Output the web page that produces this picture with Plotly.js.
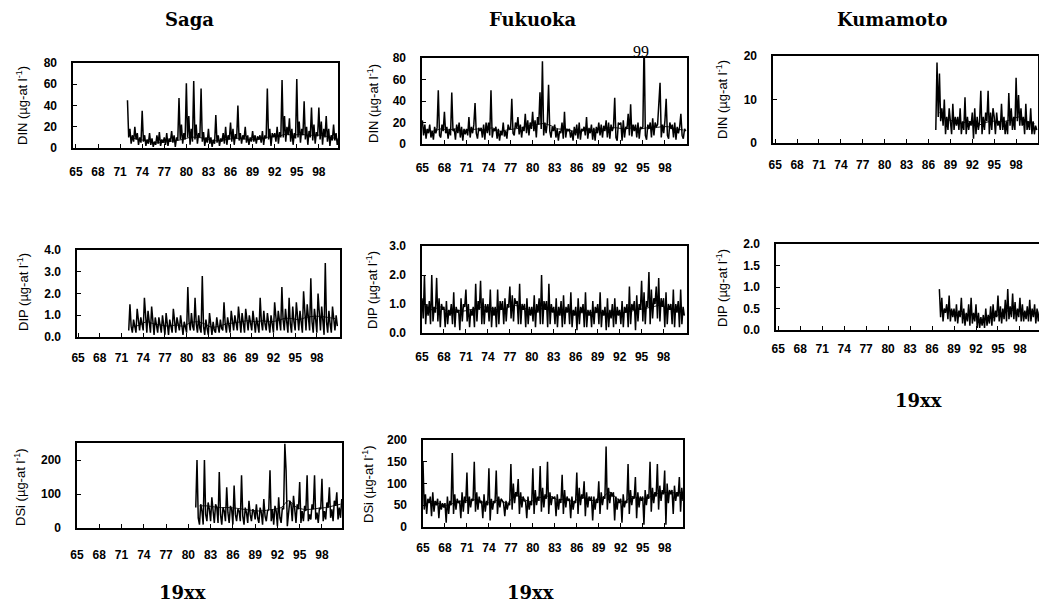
<!DOCTYPE html>
<html>
<head>
<meta charset="utf-8">
<script src="https://cdn.plot.ly/plotly-3.0.1.min.js"></script>
<style>html,body{margin:0;padding:0;background:#fff;}#chart{width:1039px;height:602px;}</style>
</head>
<body>
<div id="chart"></div>
<script>
// ---------- DATA (bimonthly raw values, annual smoothed values) ----------
const yearTicks = [65, 68, 71, 74, 77, 80, 83, 86, 89, 92, 95, 98];
const yearTickText = ["65","68","71","74","77","80","83","86","89","92","95","98"];

// Saga DIN, six values per year from 1972
const sagaDinStart = 72;
const sagaDin = [
 45,10,18,4,12,6, 20,8,14,3,10,5, 35,6,12,2,8,4, 14,3,9,1,6,3, 12,4,15,2,8,5,
 10,3,14,2,9,6, 16,5,12,1,10,7, 47,8,22,4,14,8, 61,10,30,3,18,6, 63,8,22,4,14,10,
 56,6,15,2,10,5, 18,4,10,1,8,4, 31,5,12,2,9,6, 14,4,20,3,12,8, 24,6,18,3,13,9,
 40,7,14,4,12,8, 20,5,12,3,10,6, 16,6,12,4,11,8, 12,5,16,3,12,9, 56,8,18,2,14,10,
 14,6,20,4,15,10, 64,10,30,6,20,12, 28,6,18,3,14,9, 65,10,25,5,18,12, 44,8,20,3,16,10,
 38,7,22,4,15,11, 38,8,25,3,18,10, 30,6,18,2,12,7, 22,7,14,3,9,4];
const sagaDinSmooth = [10,8,7,5,5,6,7,8,10,10,9,7,7,8,9,9,8,8,9,11,11,13,12,13,12,12,12,10,9];

// Fukuoka DIN, six values per year from 1965
const fukDinStart = 65;
const fukDin = [
 22,8,18,5,14,10, 18,6,12,4,16,10, 15,50,8,6,18,12, 30,10,16,5,14,8, 48,12,14,4,18,10,
 20,6,16,3,14,9, 14,8,25,6,16,10, 18,38,10,5,15,12, 15,6,18,4,20,10, 20,8,50,6,14,12,
 16,5,14,3,12,8, 20,7,12,5,18,14, 14,42,10,8,20,15, 25,9,18,6,16,12, 28,10,22,8,20,14,
 30,12,22,6,25,18, 48,14,77,8,20,10, 20,55,12,6,16,12, 18,6,14,3,12,10, 20,5,30,6,14,12,
 14,6,12,3,16,8, 18,5,20,4,14,12, 16,8,25,5,15,10, 18,4,15,3,16,10, 20,8,18,6,17,12,
 22,6,20,5,18,12, 16,43,6,3,20,18, 20,3,22,6,16,14, 28,8,37,7,18,12, 18,6,20,5,16,14,
 16,99,8,4,18,14, 20,6,24,8,20,16, 18,36,57,6,18,10, 22,42,8,5,20,14, 18,6,20,4,16,10,
 16,28,8,5,14,12];
const fukDinSmooth = [13,12,14,13,14,12,13,14,13,15,12,13,14,15,17,18,19,17,14,14,12,12,13,13,14,15,15,14,15,14,15,15,16,16,14,13];

// Kumamoto DIN, six values per year from 1987
const kumDinStart = 87;
const kumDin = [
 3,18.5,6,16,5,8, 4,10,2,6,3,8, 5,2,9,3,6,4, 6,3,8,2,5,3, 10.5,2,6,3,5,4,
 7,1,8,2,6,3, 5,12,2,6,3,7, 5,12,2,7,3,8, 6,2,7,4,5,3, 9,3,6,2,5,2,
 11.5,4,8,3,6,3, 15,5,11,4,8,4, 6,2,9,3,5,3, 8,2,5,2,4,3];
const kumDinSmooth = [7,5.5,5,4.5,5,4,4.5,5,5,5,5.5,6,5,4.5];

// Saga DIP, six values per year from 1972
const sagaDipStart = 72;
const sagaDip = [
 0.3,1.5,0.5,0.2,0.8,0.4, 0.2,1.3,0.6,0.3,0.9,0.5, 0.3,1.8,0.7,0.2,1.2,0.5, 0.2,1.4,0.5,0.1,0.9,0.4,
 0.2,0.9,0.6,0.2,1.0,0.4, 0.1,1.1,0.5,0.1,0.8,0.4, 0.2,1.3,0.6,0.2,0.9,0.5, 0.3,1.0,0.5,0.1,0.7,0.4,
 0.2,2.3,0.7,0.3,1.1,0.5, 0.3,1.8,0.6,0.2,1.0,0.4, 0.2,2.8,0.5,0.1,0.8,0.4, 0.1,1.1,0.4,0.1,0.7,0.3,
 0.2,0.9,0.5,0.2,0.8,0.4, 0.3,1.6,0.6,0.2,0.9,0.5, 0.2,1.2,0.7,0.3,1.0,0.6, 0.3,1.4,0.6,0.2,1.1,0.6,
 0.2,1.3,0.7,0.3,1.0,0.6, 0.3,1.2,0.5,0.2,0.9,0.5, 0.2,1.8,0.7,0.3,1.2,0.6, 0.3,1.1,0.6,0.2,1.0,0.5,
 0.2,1.6,0.7,0.3,1.2,0.6, 0.3,2.3,0.8,0.3,1.3,0.7, 0.2,1.8,0.6,0.2,1.4,0.7, 0.3,1.6,0.7,0.3,1.2,0.6,
 0.2,2.1,0.8,0.3,1.5,0.7, 0.3,2.7,0.7,0.2,1.3,0.8, 0.2,2.0,0.9,0.3,1.4,0.7, 0.1,3.4,0.7,0.2,1.2,0.6,
 0.2,1.4,0.8,0.3,1.0,0.5];
const sagaDipSmooth = [0.45,0.55,0.7,0.6,0.55,0.5,0.55,0.5,0.65,0.7,0.6,0.45,0.5,0.6,0.65,0.7,0.75,0.7,0.75,0.7,0.75,0.85,0.85,0.8,0.9,0.95,0.95,0.9,0.85];

// Fukuoka DIP, six values per year from 1965
const fukDipStart = 65;
const fukDip = [
 1.2,0.5,2.0,0.3,1.0,0.6, 1.1,0.3,2.0,0.4,0.9,0.7, 1.9,0.4,1.2,0.2,1.0,0.8, 0.9,0.2,1.1,0.3,0.8,0.6,
 1.0,0.3,1.4,0.2,0.9,0.7, 0.8,0.1,1.2,0.4,1.0,0.9, 1.5,0.4,1.0,0.2,0.8,0.6, 0.9,0.2,1.7,0.4,1.1,0.8,
 1.8,0.3,1.2,0.3,1.0,0.7, 1.0,0.4,1.5,0.2,0.9,0.6, 0.9,0.2,1.5,0.3,1.1,0.8, 1.1,0.3,1.2,0.4,1.0,0.9,
 1.6,0.5,1.3,0.4,1.2,1.0, 1.1,0.3,1.7,0.3,1.0,0.8, 1.0,0.2,1.2,0.3,0.9,0.6, 0.9,0.4,1.3,0.2,1.0,0.7,
 1.2,0.3,2.0,0.3,1.1,0.8, 1.1,0.2,1.7,0.3,1.0,0.7, 0.9,0.3,1.2,0.2,0.9,0.6, 1.1,0.2,1.3,0.3,0.9,0.7,
 1.0,0.3,1.4,0.2,0.8,0.6, 0.9,0.1,1.2,0.3,0.9,0.7, 1.0,0.2,1.4,0.2,0.8,0.6, 0.8,0.2,1.1,0.3,0.9,0.7,
 1.0,0.3,1.4,0.2,0.8,0.6, 0.9,0.1,1.2,0.2,0.8,0.5, 1.0,0.2,1.2,0.3,0.9,0.6, 0.8,0.3,1.1,0.2,0.9,0.7,
 1.0,0.2,1.6,0.3,1.0,0.8, 1.1,0.1,1.3,0.4,1.0,0.8, 1.8,0.4,1.4,0.3,1.1,0.9, 2.1,0.3,1.5,0.5,1.2,1.0,
 1.6,0.5,1.9,0.4,1.2,0.9, 1.2,0.2,1.4,0.3,1.0,0.8, 1.0,0.3,1.5,0.2,1.0,0.7, 1.1,0.2,1.5,0.3,0.9,0.6];
const fukDipSmooth = [0.85,0.8,0.9,0.75,0.8,0.75,0.8,0.85,0.9,0.85,0.8,0.85,0.95,0.9,0.8,0.75,0.85,0.85,0.75,0.75,0.75,0.7,0.7,0.7,0.7,0.65,0.7,0.7,0.75,0.8,0.85,0.9,0.95,0.85,0.8,0.8];

// Kumamoto DIP, six values per year from 1987
const kumDipStart = 87;
const kumDip = [
 0.95,0.3,0.75,0.2,0.5,0.4, 0.6,0.25,0.8,0.2,0.5,0.3, 0.5,0.2,0.6,0.15,0.45,0.3, 0.75,0.15,0.5,0.1,0.4,0.2,
 0.6,0.1,0.75,0.15,0.4,0.2, 0.6,0.05,0.4,0.05,0.3,0.1, 0.35,0.05,0.5,0.1,0.35,0.15, 0.55,0.1,0.6,0.2,0.45,0.3,
 0.8,0.2,0.55,0.15,0.5,0.25, 0.7,0.2,0.95,0.25,0.55,0.3, 0.85,0.25,0.65,0.2,0.5,0.3, 0.75,0.2,0.6,0.2,0.45,0.25,
 0.55,0.2,0.7,0.2,0.5,0.3, 0.6,0.15,0.5,0.2,0.45,0.3];
const kumDipSmooth = [0.45,0.45,0.4,0.35,0.35,0.25,0.25,0.3,0.4,0.45,0.45,0.4,0.4,0.4];

// Saga DSi, six values per year from 1981
const sagaDsiStart = 81;
const sagaDsi = [
 60,200,30,10,70,50, 10,200,40,20,75,55, 20,90,50,15,70,60, 15,165,40,10,60,50, 20,120,45,15,65,55,
 10,125,40,20,55,50, 20,155,35,10,60,45, 15,80,40,20,55,50, 25,70,30,15,60,45, 10,85,35,20,50,55,
 170,20,55,10,65,50, 5,90,30,15,60,55, 248,170,5,40,80,70, 20,95,45,15,70,55, 135,15,50,20,65,50,
 155,20,40,25,70,55, 155,25,45,15,60,55, 145,20,50,25,75,60, 120,30,55,20,80,65, 105,25,60,30,85,70];
const sagaDsiSmooth = [65,65,62,60,60,58,55,52,50,52,55,60,80,62,55,55,58,60,65,70];

// Fukuoka DSi, six values per year from 1965
const fukDsiStart = 65;
const fukDsi = [
 150,40,75,30,65,55, 70,25,80,35,60,50, 65,20,60,40,55,45, 55,10,70,30,60,50, 170,30,75,40,65,55,
 60,20,80,35,70,55, 125,30,70,45,65,60, 150,35,80,40,70,55, 60,20,75,35,60,50, 135,15,65,40,60,55,
 130,30,70,45,65,60, 55,25,60,40,55,50, 145,40,100,55,80,70, 110,30,80,45,70,60, 60,20,70,40,60,50,
 135,30,85,50,70,60, 140,35,90,45,75,65, 150,30,80,50,70,65, 70,25,75,40,65,55, 120,30,85,45,70,60,
 65,20,70,40,60,55, 125,30,90,50,75,65, 105,25,80,45,70,60, 70,15,70,40,65,55, 105,30,80,50,70,65,
 185,40,90,55,80,70, 80,15,70,40,65,55, 65,10,75,45,60,55, 145,30,85,50,70,65, 115,20,80,45,70,60,
 70,5,85,50,75,65, 150,35,90,55,80,70, 145,40,95,60,85,75, 130,5,100,55,85,75, 85,30,95,60,80,70,
 115,35,90,60,85,75];
const fukDsiSmooth = [60,58,52,50,58,60,62,62,55,58,62,55,72,68,58,65,70,70,62,65,58,68,65,60,68,80,65,58,70,66,65,75,78,80,78,80];

// ---------- PANELS ----------
const W = 1039, H = 602;
const PER_YEAR = 6;
// pixel boxes [left, right, top, bottom]
const panels = [
 {raw: sagaDin, rs: sagaDinStart, sm: sagaDinSmooth, box:[73,338,63,148], xr:[64.6,100.6], yr:[0,80], yt:[0,20,40,60,80], fmt:"", title:"DIN (µg-at l<sup>-1</sup>)", tpos:[22,106], xs:12},
 {raw: fukDin, rs: fukDinStart, sm: fukDinSmooth, box:[422,687,58,144], xr:[64.95,101], yr:[0,80], yt:[0,20,40,60,80], fmt:"", title:"DIN (µg-at l<sup>-1</sup>)", tpos:[373,104], xs:12},
 {raw: kumDin, rs: kumDinStart, sm: kumDinSmooth, box:[773,1038,56,143], xr:[64.7,101], yr:[0,20], yt:[0,10,20], fmt:"", title:"DIN (µg-at l<sup>-1</sup>)", tpos:[722,100], xs:10},
 {raw: sagaDip, rs: sagaDipStart, sm: sagaDipSmooth, box:[77,340,250,337], xr:[64.85,101.2], yr:[0,4], yt:[0,1,2,3,4], fmt:".1f", title:"DIP (µg-at l<sup>-1</sup>)", tpos:[23,292], xs:9},
 {raw: fukDip, rs: fukDipStart, sm: fukDipSmooth, box:[422,687,246,333], xr:[65,101.2], yr:[0,3], yt:[0,1,2,3], fmt:".1f", title:"DIP (µg-at l<sup>-1</sup>)", tpos:[372,290], xs:12},
 {raw: kumDip, rs: kumDipStart, sm: kumDipSmooth, box:[776,1039,244,330], xr:[64.7,100.6], yr:[0,2], yt:[0,0.5,1,1.5,2], fmt:".1f", title:"DIP (µg-at l<sup>-1</sup>)", tpos:[722,288], xs:7},
 {raw: sagaDsi, rs: sagaDsiStart, sm: sagaDsiSmooth, box:[77,342,443,528], xr:[65,100.7], yr:[0,250], yt:[0,100,200], fmt:"", title:"DSi (µg-at l<sup>-1</sup>)", tpos:[20,487], xs:15},
 {raw: fukDsi, rs: fukDsiStart, sm: fukDsiSmooth, box:[423,683,440,527], xr:[65,100.5], yr:[0,200], yt:[0,50,100,150,200], fmt:"", title:"DSi (µg-at l<sup>-1</sup>)", tpos:[368,484], xs:9}
];

const traces = [];
const layout = {
  width: W, height: H,
  margin: {l:0, r:0, t:0, b:0},
  paper_bgcolor: "#fff", plot_bgcolor: "#fff",
  showlegend: false,
  annotations: []
};
const tickFont = {family: "Arial, 'Liberation Sans', sans-serif", size: 12, color: "#000", weight: "bold"};

panels.forEach((p, i) => {
  const n = i + 1;
  const xa = n === 1 ? "x" : "x" + n;
  const ya = n === 1 ? "y" : "y" + n;
  const qx = p.raw.map((_, k) => p.rs + k / PER_YEAR);
  const ax = p.sm.map((_, k) => p.rs + k + 0.5);
  traces.push({x: qx, y: p.raw, xaxis: xa, yaxis: ya, type: "scatter", mode: "lines",
    line: {color: "#000", width: 1.5}, hoverinfo: "skip"});
  traces.push({x: ax, y: p.sm, xaxis: xa, yaxis: ya, type: "scatter", mode: "lines",
    line: {color: "#000", width: 0.9, shape: "spline"}, hoverinfo: "skip"});
  const [l, r, t, b] = p.box;
  layout["xaxis" + (n === 1 ? "" : n)] = {
    domain: [l / W, Math.min(r / W, 1)], anchor: ya, range: p.xr,
    tickmode: "array", tickvals: yearTicks, ticktext: yearTickText,
    ticks: "inside", ticklen: 4, tickwidth: 1, tickcolor: "#000",
    showline: true, mirror: true, linecolor: "#000", linewidth: 1.6,
    showgrid: false, zeroline: false, tickfont: tickFont, ticklabelstandoff: p.xs
  };
  layout["yaxis" + (n === 1 ? "" : n)] = {
    domain: [1 - b / H, 1 - t / H], anchor: xa, range: p.yr,
    tickmode: "array", tickvals: p.yt, tickformat: p.fmt,
    ticks: "inside", ticklen: 4, tickwidth: 1, tickcolor: "#000",
    showline: true, mirror: true, linecolor: "#000", linewidth: 1.6,
    showgrid: false, zeroline: false, tickfont: tickFont, ticklabelstandoff: 12
  };
  layout.annotations.push({
    text: p.title, xref: "paper", yref: "paper",
    x: p.tpos[0] / W, y: 1 - p.tpos[1] / H, xanchor: "center", yanchor: "middle",
    textangle: -90, showarrow: false,
    font: {family: "Arial, 'Liberation Sans', sans-serif", size: 13, color: "#000"}
  });
});

// column titles and axis labels
const colTitles = ["Saga", "Fukuoka", "Kumamoto"];
const colTitlePos = [[189, "center"], [487, "left"], [835, "left"]];
colTitles.forEach((t, i) => {
  layout.annotations.push({text: t, xref: "paper", yref: "paper",
    x: colTitlePos[i][0] / W, y: 1 - 20 / H, xanchor: colTitlePos[i][1], yanchor: "middle", showarrow: false,
    font: {family: "'DejaVu Serif', serif", size: 18, color: "#000", weight: "bold"}});
});
const yearLabelPos = [[182, 592], [530, 592], [918, 400]];
yearLabelPos.forEach(pt => {
  layout.annotations.push({text: "19xx", xref: "paper", yref: "paper",
    x: pt[0] / W, y: 1 - pt[1] / H, xanchor: "center", yanchor: "middle", showarrow: false,
    font: {family: "'DejaVu Serif', serif", size: 18, color: "#000", weight: "bold"}});
});
// clipped peak value marker
layout.annotations.push({text: "99", xref: "paper", yref: "paper",
  x: 641 / W, y: 1 - 51 / H, xanchor: "center", yanchor: "middle", showarrow: false,
  font: {family: "'Liberation Serif', serif", size: 16, color: "#000"}});

Plotly.newPlot("chart", traces, layout, {staticPlot: true, displayModeBar: false});
</script>
</body>
</html>
